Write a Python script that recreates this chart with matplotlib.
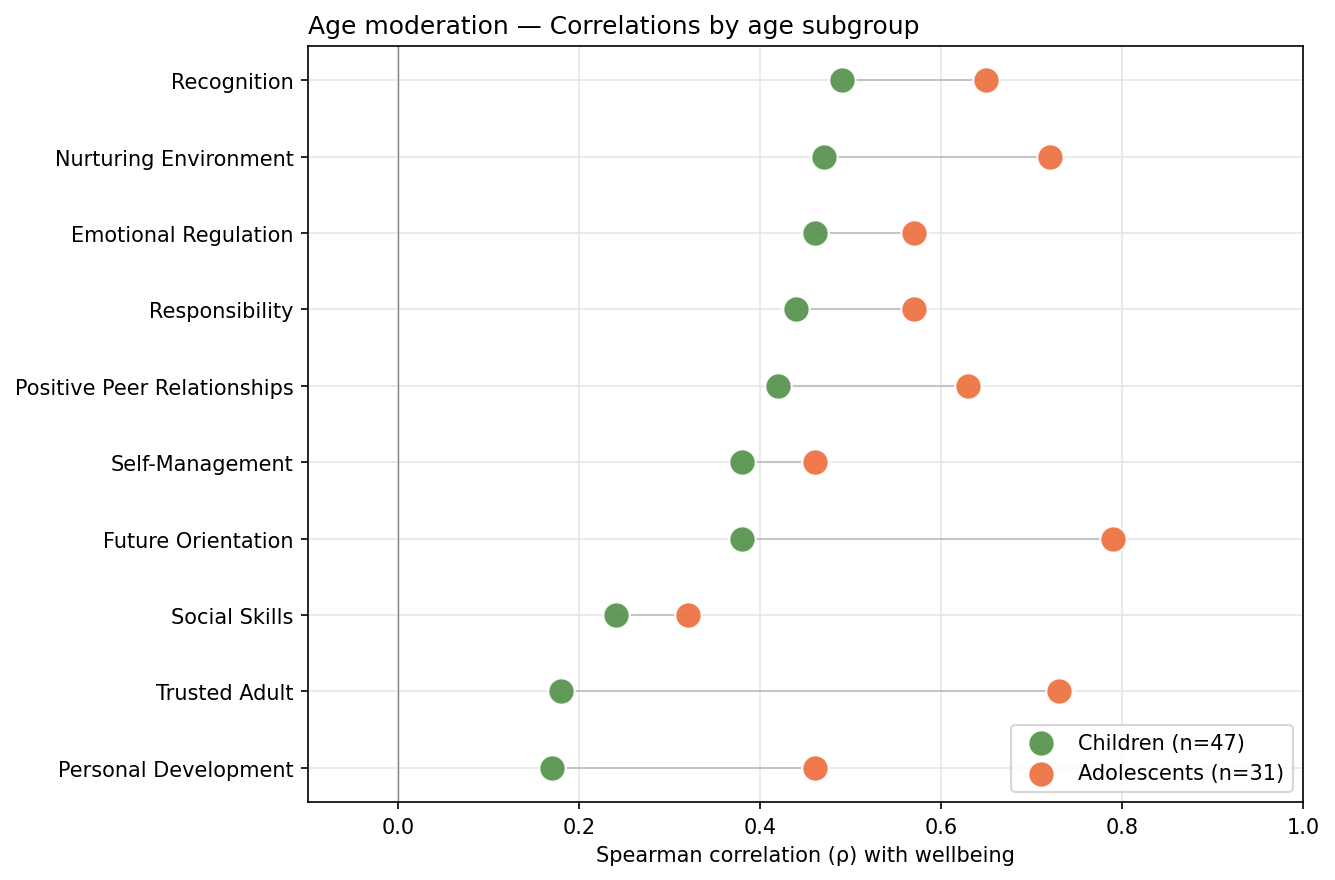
import matplotlib
matplotlib.use("Agg")
import matplotlib.pyplot as plt

categories = ["Recognition", "Nurturing Environment", "Emotional Regulation", "Responsibility",
              "Positive Peer Relationships", "Self-Management", "Future Orientation",
              "Social Skills", "Trusted Adult", "Personal Development"]
children = [0.49, 0.47, 0.46, 0.44, 0.42, 0.38, 0.38, 0.24, 0.18, 0.17]
adolescents = [0.65, 0.72, 0.57, 0.57, 0.63, 0.46, 0.79, 0.32, 0.73, 0.46]

fig = plt.figure(figsize=(8.9, 5.873), dpi=150)
ax = fig.add_axes([308/1335, 1-803/881, (1303-308)/1335, (803-47)/881])

n = len(categories)
ys = [n - 1 - i for i in range(n)]
ax.grid(True, color="#e6e6e6", linewidth=0.8, zorder=0)
ax.set_axisbelow(True)
ax.axvline(0, color="#888888", linewidth=0.7, zorder=1)
for y, c, a in zip(ys, children, adolescents):
    ax.plot([c, a], [y, y], color="#c4c4c4", linewidth=1.0, zorder=2)
ax.scatter(children, ys, s=160, color="#5a9650", edgecolor="white", linewidth=1.0, zorder=3,
           label="Children (n=47)", alpha=0.95)
ax.scatter(adolescents, ys, s=160, color="#ed7443", edgecolor="white", linewidth=1.0, zorder=3,
           label="Adolescents (n=31)", alpha=0.95)

ax.set_yticks(ys)
ax.set_yticklabels(categories)
ax.set_xlim(-0.1, 1.0)
ax.set_ylim(-0.45, 9.45)
ax.set_xticks([0.0, 0.2, 0.4, 0.6, 0.8, 1.0])
ax.set_xlabel("Spearman correlation (ρ) with wellbeing")
ax.set_title("Age moderation — Correlations by age subgroup", loc="left", fontsize=12)
ax.legend(loc="lower right")
fig.savefig("out.png", dpi=150)
